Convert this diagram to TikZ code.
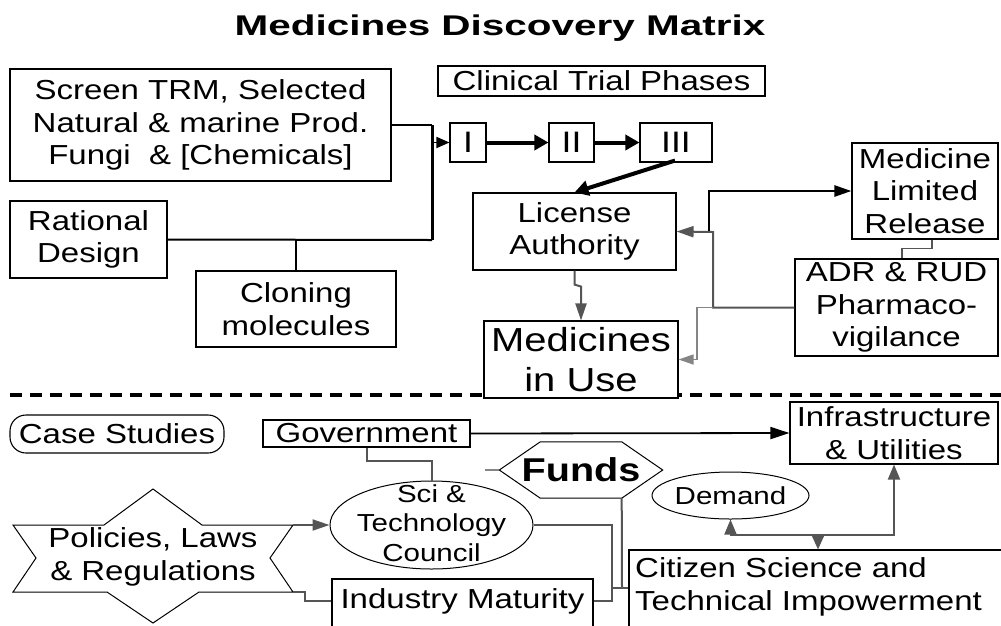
\documentclass[tikz,border=0pt]{standalone}
\usepackage{fontspec}
\setmainfont{Liberation Sans}[FakeStretch=1.2]
\newfontfamily\headfont{Liberation Sans}[FakeStretch=1.42]
\usetikzlibrary{arrows.meta,shapes.geometric,calc}

% font sizes (1pt of the picture is one unit of the layout grid)
\newcommand\fsmain{\fontsize{27.5}{32.5}\selectfont}
\newcommand\fsphase{\fontsize{29.6}{32}\selectfont}
\newcommand\fssmall{\fontsize{24.6}{29.5}\selectfont}
\newcommand\fsbig{\fontsize{33.3}{40}\selectfont}
\newcommand\fstitle{\headfont\fontsize{28.5}{34}\selectfont\bfseries}
\newcommand\fsfunds{\fontsize{33}{36}\selectfont\bfseries}

\definecolor{linkgray}{HTML}{555555}
\definecolor{lightlink}{HTML}{858585}

\begin{document}
\begin{tikzpicture}[x=1pt,y=-1pt,
  box/.style={draw, line width=1.1pt, fill=white, inner sep=0pt, align=center, font=\fsmain},
  oval/.style={ellipse, draw, line width=1pt, fill=white, inner sep=0pt},
  plain/.style={inner sep=0pt, align=center},
  blackarrow/.style={line width=1.8pt, -{Triangle[length=13pt,width=11pt]}},
  longarrow/.style={line width=1.8pt, -{Triangle[length=19pt,width=12pt]}},
  thickarrow/.style={line width=4pt, -{Triangle[length=14pt,width=15pt]}},
  grayline/.style={draw=linkgray, line width=2pt},
  grayarrow/.style={grayline, -{Triangle[length=17pt,width=11pt]}},
  lightline/.style={draw=lightlink, line width=1.4pt},
  lightarrow/.style={lightline, -{Triangle[length=15pt,width=10pt]}},
]
\useasboundingbox (0,0) rectangle (1001,625);
\clip (0,0) rectangle (1001,625);
\fill[white] (0,0) rectangle (1001,625);

% ---------- title ----------
\node[font=\fstitle, anchor=base, inner sep=0pt] (title) at (500,35.5) {Medicines Discovery Matrix};

% ---------- separator between the two halves ----------
\draw[line width=4pt, dash pattern=on 12pt off 8pt] (10,395) -- (1001,395);

% ---------- discovery pipeline ----------
\node[box, minimum width=381, minimum height=112] (screen) at (200.5,125)
  {Screen TRM, Selected\\Natural \& marine Prod.\\Fungi~ \& [Chemicals]};
\node[box, minimum width=327, minimum height=30] (clinical) at (601.5,81) {Clinical Trial Phases};
\node[box, font=\fsphase, minimum width=36, minimum height=39] (phI) at (468,142.5) {I};
\node[box, font=\fsphase, minimum width=45, minimum height=39] (phII) at (571.5,142.5) {II};
\node[box, font=\fsphase, minimum width=72, minimum height=39] (phIII) at (676,142.5) {III};
\node[box, minimum width=157, minimum height=77] (rational) at (88.5,239.5) {Rational\\Design};
\node[box, minimum width=200, minimum height=76] (cloning) at (296,309) {Cloning\\molecules};
\node[box, minimum width=203, minimum height=77] (license) at (574.5,231.5) {License\\Authority};
\node[box, font=\fsbig, minimum width=194, minimum height=77] (miu) at (581,359.5) {Medicines\\in Use};
\node[box, minimum width=146, minimum height=96] (medlr) at (925,191) {Medicine\\Limited\\Release};
\node[box, minimum width=203, minimum height=97] (adr) at (896.5,307.5) {ADR \& RUD\\Pharmaco-\\vigilance};

% sources feeding phase I
\coordinate (hub) at (432,240);
\draw[line width=2pt] (screen.east) -- (screen.east -| hub);
\draw[line width=3pt] (screen.east -| hub) -- (hub);
\draw[line width=2pt] (rational.east) -- (hub);
\draw[line width=1.5pt] (cloning.north) -- (cloning.north |- hub);
\draw[blackarrow] (phI.west -| hub) -- (phI.west);

% phases
\draw[thickarrow] (phI.east) -- (phII.west);
\draw[thickarrow] (phII.east) -- (phIII.west);
\draw[thickarrow] ($(phIII.south)+(-1,-2)$) -- (license.north);

% licensing and monitoring
\draw[grayarrow] (license.south) -- ++(0,14) -- ++(6.5,2) -- (miu.north);
\coordinate (gx) at (713,232);
\coordinate (split) at (709,231);
\coordinate (lx) at (697,307.5);
\draw[grayarrow] (adr.west) -| (gx) -- (license.east);
\draw[lightarrow] (gx |- adr.west) -- (lx) |- (miu.east);
\draw[line width=2.5pt, -{Triangle[length=17pt,width=11pt]}] (split) |- (medlr.west);
\draw[grayline, line width=1.6pt] ($(medlr.south)+(7,0)$) -- ++(0,9) -| ($(adr.north)+(5.5,0)$);

% ---------- enabling environment ----------
\node[box, rounded corners=16pt, minimum width=214, minimum height=38] (cases) at (117,434) {Case Studies};
\node[box, minimum width=207, minimum height=27] (gov) at (366.5,433.5) {Government};
\node[box, minimum width=208, minimum height=62] (infra) at (894,433) {Infrastructure\\\& Utilities};

\node[oval, minimum width=157, minimum height=47] (demand) at (730.5,495.5) {};
\node[plain, font=\fssmall] (demandtext) at (demand) {Demand};
\node[oval, minimum width=203, minimum height=88] (sci) at (431.5,525) {};
\node[plain, font=\fssmall] (scitext) at (431.5,523) {Sci \&\\Technology\\Council};

% funds hexagon
\node[inner sep=0pt, minimum width=163, minimum height=56] (funds) at (581,470) {};
\draw[line width=1pt] (funds.west) -- ($(funds.north west)+(41,0)$) -- ($(funds.north east)+(-41,0)$)
  -- (funds.east) -- ($(funds.south east)+(-41,0)$) -- ($(funds.south west)+(41,0)$) -- cycle;
\node[plain, font=\fsfunds] (fundstext) at (581,470) {Funds};
\coordinate (fundsBR) at ($(funds.south east)+(-41,0)$);

% policies star (six points)
\draw[line width=1pt, fill=white] (153,489) -- (202,525) -- (293,525) -- (270,558) -- (293,592)
  -- (199,592) -- (153,623) -- (107,592) -- (13,592) -- (36,558) -- (13,525) -- (104,525) -- cycle;
\node[plain, font=\fsmain] (plr) at (153,557) {Policies, Laws\\\& Regulations};
\coordinate (starTR) at (293,525);
\coordinate (starBR) at (293,592);

% open-bottom boxes running off the lower edge
\node[box, minimum width=261, minimum height=62] (ind) at (462.5,610) {};
\node[plain, font=\fsmain] (indt) at (462.5,601) {Industry Maturity};
\node[box, minimum width=381, minimum height=90] (cit) at (819.5,595) {};
\node[plain, font=\fsmain, align=left, anchor=west] (citt) at (635,587)
  {Citizen Science and\\Technical Impowerment};

% links
\draw[longarrow] (gov.east) -- (infra.west);
\draw[grayline] (gov.south) -- ++(0,13) -| (sci.north);
\draw[grayarrow] (starTR) -- (sci.west);
\draw[grayline] (starBR) -- ++(12,0) |- (indt.west -| ind.west);
\coordinate (busB) at (612,601);
\coordinate (joinC) at (622,588);
\draw[grayline] (sci.east) -| (busB) -- (ind.east |- busB);
\draw[grayline] (fundsBR) -- (joinC);
\draw[grayline] (busB |- joinC) -- (joinC -| cit.west);
\draw[lightline] (funds.west) -- ++(-14,0);

\coordinate (dj) at (818,535);
\draw[grayarrow, {Triangle[length=15pt,width=12pt]}-{Triangle[length=15pt,width=12pt]}]
  (demand.south) -- (demand.south |- dj) -| (infra.south);
\draw[grayline, -{Triangle[length=15pt,width=13pt]}] (dj) -- (dj |- cit.north);
\end{tikzpicture}
\end{document}
